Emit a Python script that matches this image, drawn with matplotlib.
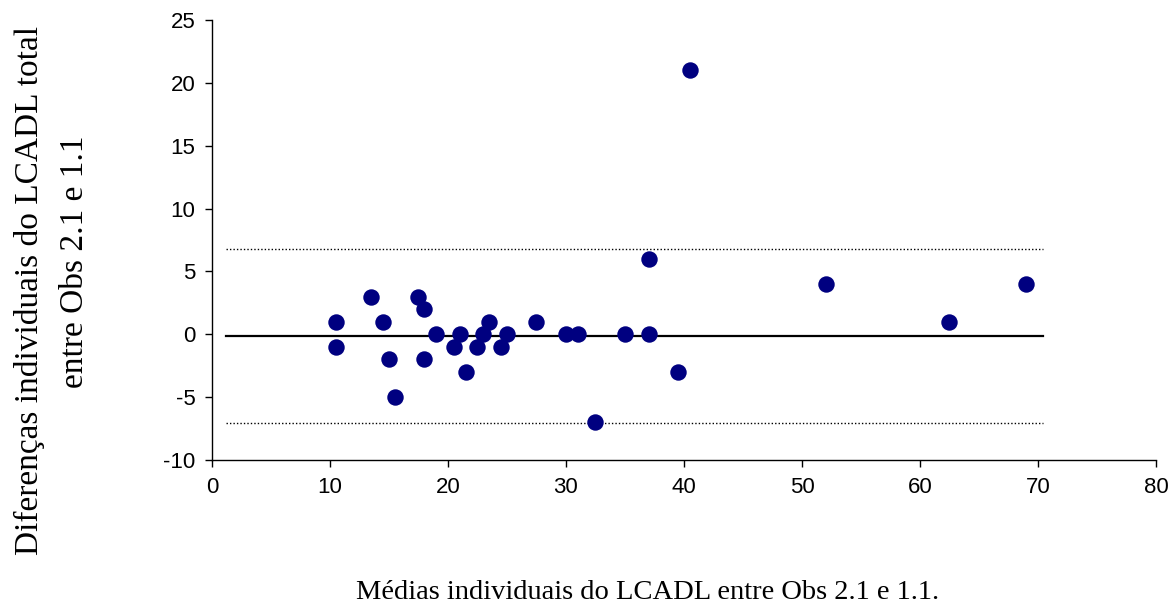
import matplotlib
matplotlib.use("Agg")
import matplotlib.pyplot as plt

# Bland-Altman: means vs differences between Obs 2.1 and 1.1
means = [10.5, 10.5, 13.5, 14.5, 15.0, 15.5, 17.5, 18.0, 18.0, 19.0,
         20.5, 21.0, 21.5, 22.5, 23.0, 23.5, 24.5, 25.0, 27.5, 30.0,
         31.0, 32.5, 35.0, 37.0, 37.0, 39.5, 40.5, 52.0, 62.5, 69.0]
diffs = [1, -1, 3, 1, -2, -5, 3, 2, -2, 0,
         -1, 0, -3, -1, 0, 1, -1, 0, 1, 0,
         0, -7, 0, 6, 0, -3, 21, 4, 1, 4]

mean_diff = -0.13
upper_limit = 6.8
lower_limit = -7.08
line_span = [1.2, 70.4]

x_ticks = [0, 10, 20, 30, 40, 50, 60, 70, 80]
y_ticks = [-10, -5, 0, 5, 10, 15, 20, 25]

plt.rcParams["axes.unicode_minus"] = False

fig = plt.figure(figsize=(11.73, 6.08), dpi=100)
ax = fig.add_axes([0.1807, 0.2434, 0.8048, 0.7237])

ax.plot(line_span, [mean_diff, mean_diff], color="black", lw=1.6, zorder=2)
ax.plot(line_span, [upper_limit, upper_limit], color="black", lw=1.0,
        linestyle=(0, (1, 1.5)), zorder=2)
ax.plot(line_span, [lower_limit, lower_limit], color="black", lw=1.0,
        linestyle=(0, (1, 1.5)), zorder=2)
ax.scatter(means, diffs, s=140, color="#000080", zorder=3, linewidths=0)

ax.set_xlim(0, 80)
ax.set_ylim(-10, 25)
ax.set_xticks(x_ticks)
ax.set_yticks(y_ticks)
for side in ("top", "right"):
    ax.spines[side].set_visible(False)
for side in ("left", "bottom"):
    ax.spines[side].set_linewidth(1.0)
ax.tick_params(direction="out", length=5, width=1.0, labelsize=16, pad=7)
for lbl in ax.get_xticklabels() + ax.get_yticklabels():
    lbl.set_fontfamily("Liberation Sans")

ax.set_xlabel("Médias individuais do LCADL entre Obs 2.1 e 1.1.",
              fontfamily="Liberation Serif", fontsize=20.5)
ax.xaxis.label.set_va("baseline")
ax.xaxis.set_label_coords((648 - 212) / 944, (460 - 599) / 440)

ax.set_ylabel("Diferenças individuais do LCADL total",
              fontfamily="Liberation Serif", fontsize=24)
ax.yaxis.label.set_va("center")
ax.yaxis.set_label_coords((30 - 212) / 944, (460 - 290) / 440)
fig.text(75 / 1173, 1 - 262 / 608, "entre Obs 2.1 e 1.1", rotation=90,
         ha="center", va="center", fontfamily="Liberation Serif", fontsize=24)

fig.savefig("out.png", dpi=100)
